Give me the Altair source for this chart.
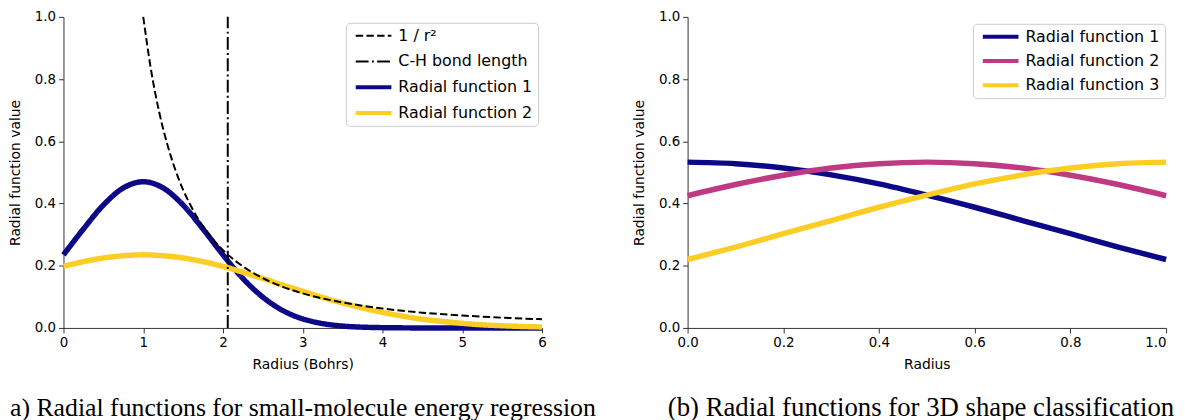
import altair as alt
import pandas as pd

# ---------------- Panel (a) data ----------------
series_left = ["1 / r²", "C-H bond length", "Radial function 1", "Radial function 2"]
colors_left = ["#000000", "#000000", "#0d0887", "#fccd25"]
dash_left = [[7.5, 3.3], [13, 3.3, 2, 3.3], [1, 0], [1, 0]]
legend_width_left = [2, 2, 4, 4]

inv_r = [1.0, 1.1, 1.2, 1.3, 1.4, 1.5, 1.6, 1.7, 1.8, 1.9, 2.0, 2.25, 2.5, 2.75,
         3.0, 3.5, 4.0, 4.5, 5.0, 5.5, 6.0]
inv_val = [1.0, 0.826, 0.694, 0.592, 0.510, 0.444, 0.391, 0.346, 0.309, 0.277,
           0.250, 0.198, 0.160, 0.132, 0.111, 0.082, 0.0625, 0.049, 0.040, 0.033, 0.028]

bond_length = 2.06

left_r = [0.0, 0.25, 0.5, 0.75, 1.0, 1.25, 1.5, 1.75, 2.0, 2.25, 2.5, 2.75, 3.0,
          3.25, 3.5, 3.75, 4.0, 4.25, 4.5, 4.75, 5.0, 5.25, 5.5, 5.75, 6.0]
rf1_left = [0.235, 0.318, 0.395, 0.450, 0.470, 0.450, 0.395, 0.318, 0.235, 0.159,
            0.099, 0.056, 0.029, 0.014, 0.006, 0.0025, 0.001, 0.0003, 0.0, 0.0,
            0.0, 0.0, 0.0, 0.0, 0.0]
rf2_left = [0.198, 0.213, 0.225, 0.232, 0.235, 0.232, 0.225, 0.213, 0.198, 0.179,
            0.159, 0.138, 0.118, 0.098, 0.080, 0.064, 0.050, 0.038, 0.028, 0.021,
            0.015, 0.010, 0.0071, 0.0047, 0.0031]

left_x_ticks = [0, 1, 2, 3, 4, 5, 6]

# ---------------- Panel (b) data ----------------
series_right = ["Radial function 1", "Radial function 2", "Radial function 3"]
colors_right = ["#0d0887", "#c03a83", "#fccd25"]

right_r = [0.0, 0.1, 0.2, 0.3, 0.4, 0.5, 0.6, 0.7, 0.8, 0.9, 1.0]
rf1_right = [0.533, 0.528, 0.514, 0.492, 0.463, 0.427, 0.388, 0.345, 0.303, 0.260, 0.220]
rf2_right = [0.425, 0.461, 0.491, 0.514, 0.528, 0.533, 0.528, 0.514, 0.491, 0.461, 0.425]
rf3_right = [0.220, 0.260, 0.303, 0.345, 0.388, 0.427, 0.463, 0.492, 0.514, 0.528, 0.533]

right_x_ticks = [0.0, 0.2, 0.4, 0.6, 0.8, 1.0]
y_ticks = [0.0, 0.2, 0.4, 0.6, 0.8, 1.0]

caption_left = "a) Radial functions for small-molecule energy regression"
caption_right = "(b) Radial functions for 3D shape classification"

# ---------------- styling helpers ----------------
SANS = "DejaVu Sans"
SERIF = "Liberation Serif"
W, H = 483, 314
THICK = 5.5
THIN = 2


def axis(title, values, fmt, title_pad=8, label_align=None):
    kw = dict(
        title=title, values=values, format=fmt, grid=False,
        labelFont=SANS, labelFontSize=13.5, labelColor="black", labelFlush=False,
        labelPadding=3, tickSize=5, tickColor="#333333", domainColor="#333333",
        titleFont=SANS, titleFontSize=14, titleFontWeight="normal", titleColor="black",
        titlePadding=title_pad,
    )
    if label_align is not None:
        kw["labelAlign"] = label_align
    return alt.Axis(**kw)


def legend(x, y, row_pad, symbol_path, stroke_width=None):
    kw = dict(
        title=None, orient="none", legendX=x, legendY=y, symbolType=symbol_path,
        symbolSize=36, labelFont=SANS, labelFontSize=16, labelColor="black",
        labelOffset=32, padding=5, rowPadding=row_pad, fillColor="white",
        strokeColor="#cccccc", cornerRadius=4,
    )
    if stroke_width is not None:
        kw["symbolStrokeWidth"] = stroke_width
    return alt.Legend(**kw)


def caption(text, dx, size):
    return alt.TitleParams(
        text=text, orient="bottom", anchor="start", frame="group", dx=dx,
        offset=45, font=SERIF, fontSize=size, fontWeight="normal", color="black",
        baseline="alphabetic",
    )


# ---------------- Panel (a) ----------------
rf_left_df = pd.concat([
    pd.DataFrame({"r": left_r, "value": rf1_left, "series": series_left[2]}),
    pd.DataFrame({"r": left_r, "value": rf2_left, "series": series_left[3]}),
], ignore_index=True)
inv_df = pd.DataFrame({"r": inv_r, "value": inv_val, "series": series_left[0]})
bond_df = pd.DataFrame({"r": [bond_length], "lo": [0.0], "hi": [1.0],
                        "series": [series_left[1]]})

leg_a = legend(285, 6, 10, "M-1,0H11")
enc_color_a = alt.Color("series:N", scale=alt.Scale(domain=series_left, range=colors_left), legend=leg_a)
enc_dash_a = alt.StrokeDash("series:N", scale=alt.Scale(domain=series_left, range=dash_left), legend=leg_a)
enc_width_a = alt.StrokeWidth("series:N", scale=alt.Scale(type="ordinal", domain=series_left, range=legend_width_left), legend=leg_a)

x_a = alt.X("r:Q", scale=alt.Scale(domain=[0, 6], nice=False), axis=axis("Radius (Bohrs)", left_x_ticks, "d"))
y_a = alt.Y("value:Q", scale=alt.Scale(domain=[0, 1], nice=False),
            axis=axis("Radial function value", y_ticks, ".1f", title_pad=12))

rf_a = alt.Chart(rf_left_df).mark_line(interpolate="monotone", strokeWidth=THICK).encode(
    x=x_a, y=y_a, color=enc_color_a, strokeDash=enc_dash_a, order=alt.Order("r:Q"),
)
inv_a = alt.Chart(inv_df).mark_line(interpolate="monotone", strokeWidth=THIN).encode(
    x=x_a, y=y_a, color=enc_color_a, strokeDash=enc_dash_a, order=alt.Order("r:Q"),
)
rule_a = alt.Chart(bond_df).mark_rule().encode(
    x=alt.X("r:Q"), y=alt.Y("lo:Q"), y2="hi:Q",
    color=enc_color_a, strokeDash=enc_dash_a, strokeWidth=enc_width_a,
)
panel_a = alt.layer(rf_a, inv_a, rule_a).properties(
    width=W, height=H, title=caption(caption_left, -54, 26)
)

# ---------------- Panel (b) ----------------
right_lines = pd.concat([
    pd.DataFrame({"r": right_r, "value": rf1_right, "series": series_right[0]}),
    pd.DataFrame({"r": right_r, "value": rf2_right, "series": series_right[1]}),
    pd.DataFrame({"r": right_r, "value": rf3_right, "series": series_right[2]}),
], ignore_index=True)

panel_b = alt.Chart(right_lines).mark_line(interpolate="monotone", strokeWidth=THICK).encode(
    x=alt.X("r:Q", scale=alt.Scale(domain=[0, 1], nice=False),
            axis=axis("Radius", right_x_ticks, ".1f",
                      label_align=alt.expr("datum.value >= 1 ? 'right' : 'center'"))),
    y=alt.Y("value:Q", scale=alt.Scale(domain=[0, 1], nice=False),
            axis=axis("Radial function value", y_ticks, ".1f", title_pad=12)),
    color=alt.Color("series:N", scale=alt.Scale(domain=series_right, range=colors_right),
                    legend=legend(288, 7, 8.5, "M-1,0H11", 4)),
).properties(width=W, height=H, title=caption(caption_right, -20, 27))

chart = alt.hconcat(panel_a, panel_b, spacing=147, bounds="flush").resolve_scale(
    color="independent", strokeDash="independent", strokeWidth="independent"
).resolve_legend(
    color="independent", strokeDash="independent", strokeWidth="independent"
).properties(padding=0).configure_view(stroke=None)

chart.save("out.html", embed_options={"renderer": "svg", "actions": False})
